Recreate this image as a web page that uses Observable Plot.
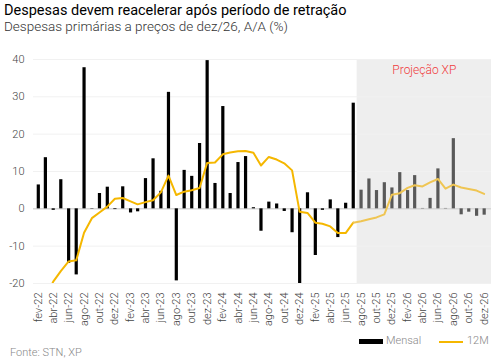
<!DOCTYPE html>
<html><head><meta charset="utf-8">
<script src="https://cdn.jsdelivr.net/npm/d3@7"></script>
<script src="https://cdn.jsdelivr.net/npm/@observablehq/plot@0.6"></script>
<style>
body{margin:0;width:502px;height:362px;background:#fff;font-family:Roboto,sans-serif;position:relative;overflow:hidden}
.t{position:absolute;white-space:nowrap;line-height:1}
#title{left:4px;top:3.5px;font-size:14.5px;font-weight:400;color:#000}
#subtitle{left:4px;top:19.5px;font-size:13.5px;font-weight:300;color:#333}
#chart{position:absolute;left:0;top:40px}
#caption{left:10px;top:347px;font-size:11px;color:#888;font-weight:300}
.lg{top:335px;font-size:11px;color:#888;font-weight:300}
.sw{position:absolute}
svg text{font-weight:300}
</style></head>
<body>
<div id="title" class="t">Despesas devem reacelerar após período de retração</div>
<div id="subtitle" class="t">Despesas primárias a preços de dez/26, A/A (%)</div>
<div id="chart"></div>
<div class="sw" style="left:359px;top:339px;width:24px;height:5px;background:#000"></div>
<div class="t lg" style="left:386px">Mensal</div>
<div class="sw" style="left:439px;top:341px;width:24px;height:2px;background:#f5b700"></div>
<div class="t lg" style="left:467px">12M</div>
<div id="caption" class="t">Fonte: STN, XP</div>
<script>
const months = ["fev-22","mar-22","abr-22","mai-22","jun-22","jul-22","ago-22","set-22","out-22","nov-22","dez-22",
"jan-23","fev-23","mar-23","abr-23","mai-23","jun-23","jul-23","ago-23","set-23","out-23","nov-23","dez-23",
"jan-24","fev-24","mar-24","abr-24","mai-24","jun-24","jul-24","ago-24","set-24","out-24","nov-24","dez-24",
"jan-25","fev-25","mar-25","abr-25","mai-25","jun-25","jul-25","ago-25","set-25","out-25","nov-25","dez-25",
"jan-26","fev-26","mar-26","abr-26","mai-26","jun-26","jul-26","ago-26","set-26","out-26","nov-26","dez-26"];
const mensal = [6.4,13.7,-0.4,7.8,-14.6,-17.7,37.8,-0.1,4.1,5.8,-0.2,
5.9,-1.1,-0.8,8.1,13.4,4.7,31.2,-19.3,10.3,8.7,17.5,39.7,
6.8,27.4,4.1,12.4,14.0,0.3,-6.0,1.8,1.3,-0.7,-6.4,-20.5,
4.3,-12.5,-0.4,2.4,-7.7,1.5,28.3,5.0,8.0,4.9,7.0,5.6,
9.7,4.9,8.9,0.1,2.8,10.7,0.1,18.8,-1.6,-0.9,-2.0,-1.7];
const doze = [-28,-24,-19.5,-16.7,-14.1,-13.8,-6.4,-2.5,-1.0,0.6,2.7,
2.9,2.0,1.2,1.8,2.3,4.4,8.9,3.7,4.6,5.0,5.6,12.3,
12.4,14.6,15.1,15.4,15.5,15.0,11.6,13.9,13.2,12.2,10.3,-0.8,
-1.1,-3.7,-4.0,-4.7,-6.5,-6.5,-3.7,-3.3,-2.8,-2.3,-1.5,3.8,
4.2,5.6,6.3,6.0,7.1,8.0,5.4,6.5,5.7,5.3,4.9,4.0];
const firstProjection = "ago-25";
const yTicks = [-20,-10,0,10,20,30,40];
const projLabel = "Projeção XP";

const mm = {jan:0,fev:1,mar:2,abr:3,mai:4,jun:5,jul:6,ago:7,set:8,out:9,nov:10,dez:11};
const parse = s => { const [m,y] = s.split("-"); return new Date(Date.UTC(2000 + +y, mm[m], 1)); };
const pIdx = months.indexOf(firstProjection);
const data = months.map((m,i) => ({label:m, date:parse(m), mensal:mensal[i], doze:doze[i], proj:i>=pIdx}));
const labelOf = new Map(data.map(d => [+d.date, d.label]));
const tickDates = data.filter((d,i) => i % 2 === 0).map(d => d.date);
const startShade = new Date((+data[pIdx-1].date + +data[pIdx].date)/2);
const xDomain = [new Date(Date.UTC(2022,0,13)), new Date(Date.UTC(2026,11,30))];
const shade = [{x1:startShade, x2:xDomain[1]}];

const chart = Plot.plot({
  width: 502, height: 290,
  marginTop: 19, marginBottom: 47, marginLeft: 33, marginRight: 11,
  style: {fontFamily: "Roboto, sans-serif", fontSize: "11px", color: "#444", background: "transparent"},
  x: {type: "utc", domain: xDomain},
  y: {domain: [-20, 40]},
  marks: [
    Plot.rect(shade, {x1: "x1", x2: "x2", y1: -20, y2: 40, fill: "#eeeeee"}),
    Plot.ruleY(yTicks, {stroke: "#f1f1f1", strokeWidth: 1}),
    Plot.ruleY([0], {stroke: "#c9c9c9"}),
    Plot.ruleX(data.filter(d => !d.proj), {x: "date", y1: 0, y2: "mensal", stroke: "#000", strokeWidth: 3.2, clip: true}),
    Plot.ruleX(data.filter(d => d.proj), {x: "date", y1: 0, y2: "mensal", stroke: "#595959", strokeWidth: 3.2, clip: true}),
    Plot.line(data.slice(0, pIdx), {x: "date", y: "doze", stroke: "#f5b700", strokeWidth: 2, clip: true}),
    Plot.line(data.slice(pIdx - 1), {x: "date", y: "doze", stroke: "#efc553", strokeWidth: 2, clip: true}),
    Plot.text([projLabel], {x: new Date((+startShade + +xDomain[1])/2), y: 40, text: d => d, lineAnchor: "top", dy: 6, fill: "#f03c3c", fontSize: 12}),
    Plot.axisY(yTicks, {tickSize: 0, tickPadding: 9, tickFormat: d => String(d), fill: "#444"}),
    Plot.axisX(tickDates, {tickSize: 0, tickPadding: 9, tickRotate: -90, tickFormat: d => labelOf.get(+d), fill: "#444", label: null})
  ]
});
document.getElementById("chart").append(chart);
</script>
</body></html>
